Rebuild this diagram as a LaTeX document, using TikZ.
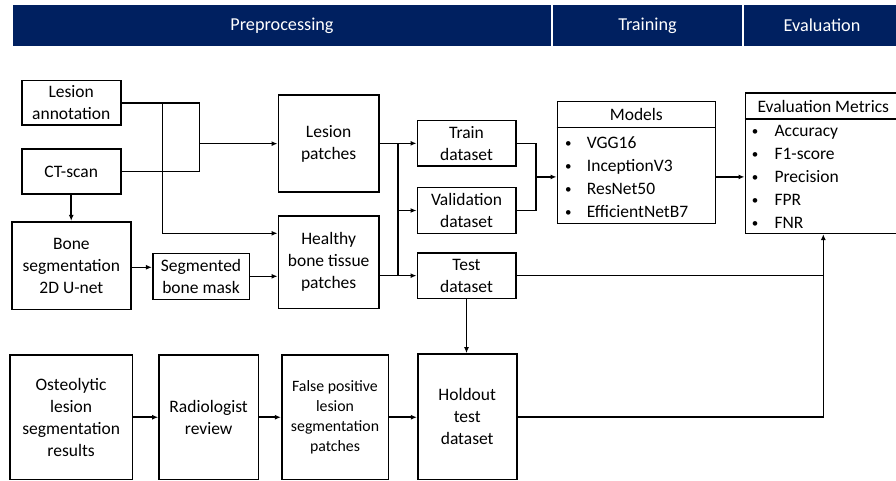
\documentclass[tikz,border=0pt]{standalone}
\usepackage{fontspec}
\setmainfont{Carlito}
\usetikzlibrary{arrows.meta,calc}
\definecolor{hdrblue}{RGB}{0,32,96}
\newcommand\boxfont{\fontsize{17.5}{22}\selectfont}
\newcommand\smallboxfont{\fontsize{15.8}{20}\selectfont}
\newcommand\hdrfont{\fontsize{18.2}{21}\selectfont}
\newcommand\dotfont{\fontsize{13}{15}\selectfont}
\tikzset{
  hdr/.style={fill=hdrblue, text=white, inner sep=0pt, font=\hdrfont},
  stage/.style={draw, line width=1.6pt, inner sep=0pt, align=center, font=\boxfont},
  itemtext/.style={inner sep=0pt, font=\boxfont, anchor=base west},
  bullet/.style={inner sep=0pt, font=\dotfont, anchor=base},
  wire/.style={line width=1.6pt},
  arrow/.style={line width=1.6pt, -{Latex[length=6pt,width=5pt]}}
}
\begin{document}
\begin{tikzpicture}[x=1pt,y=-1pt]
\useasboundingbox (0,0) rectangle (896,481);
\clip (0,0) rectangle (896,481);

% phase banner
\node[hdr, minimum width=538pt, minimum height=40.5pt] (hpre) at (282,25.5) {Preprocessing};
\node[hdr, minimum width=189pt, minimum height=40.5pt] (htrain) at (647.5,25.5) {Training};
\node[hdr, minimum width=156pt, minimum height=40.5pt] (heval) at (822,25.5) {Evaluation};

% inputs and preprocessing
\node[stage, minimum width=99pt, minimum height=44.3pt] (ann) at (71.2,102.85) {Lesion\\annotation};
\node[stage, minimum width=99pt, minimum height=44.7pt] (ct) at (71.2,171.65) {CT-scan};
\node[stage, minimum width=119.3pt, minimum height=87.6pt] (boneseg) at (71.35,265.5) {Bone\\segmentation\\2D U-net};
\node[stage, minimum width=96.6pt, minimum height=46pt] (mask) at (201,276.3) {Segmented\\bone mask};
\node[stage, minimum width=100.7pt, minimum height=97.3pt] (lpatch) at (328.65,143.65) {Lesion\\patches};
\node[stage, minimum width=100.7pt, minimum height=92.3pt] (hpatch) at (328.65,262.15) {Healthy\\bone tissue\\patches};

% dataset split
\node[stage, minimum width=98.4pt, minimum height=45.3pt] (train) at (466.5,143.35) {Train\\dataset};
\node[stage, minimum width=98.4pt, minimum height=45.6pt] (val) at (466.5,210.5) {Validation\\dataset};
\node[stage, minimum width=98.4pt, minimum height=45.3pt] (test) at (466.5,275.65) {Test\\dataset};

% models list
\node[stage, minimum width=158pt, minimum height=121.6pt] (models) at (636.3,162.5) {};
\draw[wire] ([yshift=-26.6pt]models.north west) -- ([yshift=-26.6pt]models.north east);
\node[inner sep=0pt, font=\boxfont] (mtitle) at ($(models.north)+(0,14)$) {Models};
\foreach \t [count=\i] in {VGG16, InceptionV3, ResNet50, EfficientNetB7} {
  \node[bullet] (mb\i) at (568.3,{147.4+(\i-1)*23}) {\textbullet};
  \node[itemtext] (m\i) at (586.7,{148.2+(\i-1)*23}) {\t};
}

% metrics list
\node[stage, minimum width=156pt, minimum height=140pt] (metrics) at (823.3,163.3) {};
\draw[wire] ([yshift=-26.7pt]metrics.north west) -- ([yshift=-26.7pt]metrics.north east);
\node[inner sep=0pt, font=\boxfont] (etitle) at ($(metrics.north)+(0,13.8)$) {Evaluation Metrics};
\foreach \t [count=\i] in {Accuracy, F1-score, Precision, FPR, FNR} {
  \node[bullet] (eb\i) at (755,{135.7+(\i-1)*22.9}) {\textbullet};
  \node[itemtext] (e\i) at (774.3,{136.5+(\i-1)*22.9}) {\t};
}

% holdout branch
\node[stage, minimum width=122.3pt, minimum height=124.5pt] (osteo) at (71.15,417.25) {Osteolytic\\lesion\\segmentation\\results};
\node[stage, minimum width=99.3pt, minimum height=124.5pt] (radio) at (208.65,417.25) {Radiologist\\review};
\node[stage, minimum width=106.6pt, minimum height=124.5pt, font=\smallboxfont] (fp) at (335,417.25) {False positive\\lesion\\segmentation\\patches};
\node[stage, minimum width=99pt, minimum height=125.5pt] (holdout) at (467.2,416.75) {Holdout\\test\\dataset};

% junction points
\coordinate (jx) at (199.5,0);
\coordinate (jb) at (162.5,0);
\coordinate (bus) at (398,0);
\coordinate (mj) at (536,176.9);
\coordinate (hin) at ([yshift=28.85pt]hpatch.west);

% connectors
\draw[wire] (ann.east) -- (ann.east -| jx) -- (ct.east -| jx) -- (ct.east);
\draw[arrow] (jx |- lpatch.west) -- (lpatch.west);
\draw[arrow] (ann.east -| jb) |- (hin);
\draw[arrow] (ct.south) -- (ct.south |- boneseg.north);
\draw[arrow] ([yshift=-1.8pt]boneseg.east) -- ([yshift=-1.8pt]boneseg.east -| mask.west);
\draw[arrow] (mask.east) -- (mask.east -| hpatch.west);
\draw[wire] (lpatch.east) -- (lpatch.east -| bus) -- (test.west -| bus);
\draw[wire] (hpatch.east |- test.west) -- (test.west -| bus);
\draw[arrow] (train.west -| bus) -- (train.west);
\draw[arrow] (val.west -| bus) -- (val.west);
\draw[arrow] (test.west -| bus) -- (test.west);
\draw[wire] (train.east) -- (train.east -| mj) -- (val.east -| mj) -- (val.east);
\draw[arrow] (mj) -- (mj -| models.west);
\draw[arrow] (mj -| models.east) -- (mj -| metrics.west);
\draw[wire] (test.east) -- (test.east -| metrics.south);
\draw[arrow] (holdout.east) -| (metrics.south);
\draw[arrow] (test.south) -- (test.south |- holdout.north);
\draw[arrow] (osteo.east) -- (radio.west);
\draw[arrow] (radio.east) -- (fp.west);
\draw[arrow] (fp.east) -- (fp.east -| holdout.west);
\end{tikzpicture}
\end{document}
